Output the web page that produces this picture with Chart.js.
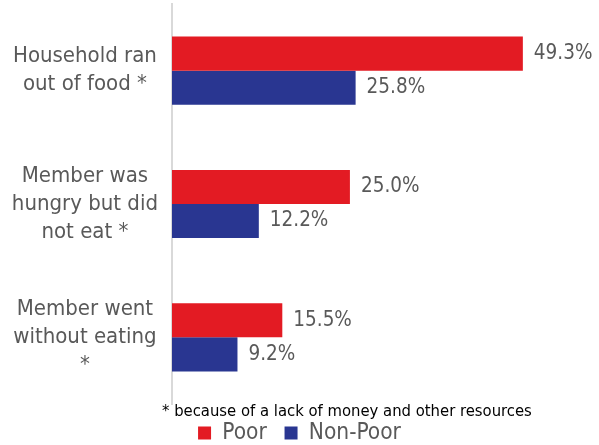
<!DOCTYPE html>
<html>
<head>
<meta charset="utf-8">
<script src="https://cdn.jsdelivr.net/npm/chart.js@4/dist/chart.umd.min.js"></script>
<style>
  html, body { margin: 0; padding: 0; background: #ffffff; }
  #wrap { width: 599px; height: 445px; position: relative; }
</style>
</head>
<body>
<div id="wrap"><canvas id="c" width="599" height="445"></canvas></div>
<script>
const categories = [
  ['Household ran', 'out of food *'],
  ['Member was', 'hungry but did', 'not eat *'],
  ['Member went', 'without eating', '*']
];
const seriesNames = ['Poor', 'Non-Poor'];
const poorValues = [49.3, 25.0, 15.5];
const nonPoorValues = [25.8, 12.2, 9.2];
const footnote = '* because of a lack of money and other resources';

const FONT = "'Liberation Sans Narrow', 'DejaVu Sans Condensed', 'Liberation Sans', sans-serif";
const GREY = '#595959';
const RED = '#E31B23';
const BLUE = '#293691';

const valueLabels = {
  id: 'valueLabels',
  afterDatasetsDraw(chart) {
    const ctx = chart.ctx;
    ctx.save();
    ctx.font = '20.5px ' + FONT;
    ctx.fillStyle = GREY;
    ctx.textAlign = 'left';
    ctx.textBaseline = 'middle';
    chart.data.datasets.forEach((ds, i) => {
      const meta = chart.getDatasetMeta(i);
      meta.data.forEach((el, j) => {
        ctx.fillText(ds.data[j].toFixed(1) + '%', el.x + 11, el.y);
      });
    });
    ctx.restore();
  }
};

const footnotePlugin = {
  id: 'footnote',
  afterDraw(chart) {
    const ctx = chart.ctx;
    ctx.save();
    ctx.font = '16.5px ' + FONT;
    ctx.fillStyle = '#000000';
    ctx.textAlign = 'left';
    ctx.textBaseline = 'middle';
    ctx.fillText(footnote, 162, 412);
    ctx.restore();
  }
};

new Chart(document.getElementById('c'), {
  type: 'bar',
  data: {
    labels: categories,
    datasets: [
      { label: seriesNames[0], data: poorValues, backgroundColor: RED, borderWidth: 0 },
      { label: seriesNames[1], data: nonPoorValues, backgroundColor: BLUE, borderWidth: 0 }
    ]
  },
  options: {
    indexAxis: 'y',
    responsive: false,
    animation: false,
    devicePixelRatio: 1,
    layout: { padding: { top: 4, bottom: -9.25, left: 0, right: 0 } },
    datasets: { bar: { categoryPercentage: 0.511, barPercentage: 1.0 } },
    scales: {
      x: { display: false, min: 0, max: 60 },
      y: {
        grid: { display: false, drawTicks: false },
        border: { display: true, color: '#d9d9d9', width: 2 },
        ticks: {
          color: GREY,
          font: { family: FONT, size: 22, lineHeight: 1.27 },
          crossAlign: 'center',
          padding: 14
        },
        afterFit(scale) {
          scale.width = 172;
          scale.paddingTop = 0;
          scale.paddingBottom = 0;
        }
      }
    },
    plugins: {
      legend: {
        position: 'bottom',
        labels: {
          color: GREY,
          font: { family: FONT, size: 22.5 },
          boxWidth: 13,
          boxHeight: 13,
          padding: 17.75
        }
      },
      tooltip: { enabled: false }
    }
  },
  plugins: [valueLabels, footnotePlugin]
});
</script>
</body>
</html>
